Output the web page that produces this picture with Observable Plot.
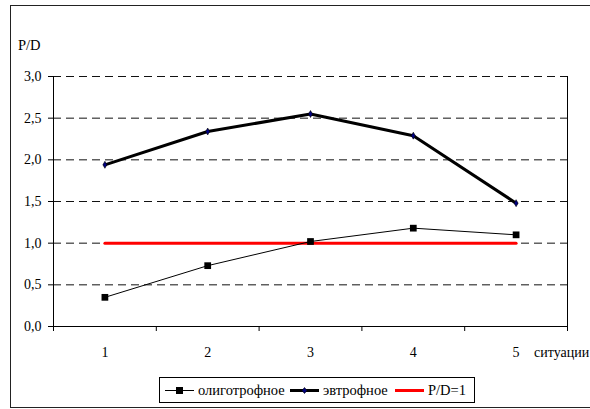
<!DOCTYPE html>
<html>
<head>
<meta charset="utf-8">
<script src="https://cdn.jsdelivr.net/npm/d3@7"></script>
<script src="https://cdn.jsdelivr.net/npm/@observablehq/plot@0.6"></script>
<style>
  html, body { margin: 0; padding: 0; background: #fff; overflow: hidden; }
  #wrap { position: relative; width: 590px; height: 409px; font-family: 'Liberation Serif', serif; }
  #frame { position: absolute; left: 10px; top: 5px; width: 620px; height: 401px; border: 1px solid #222; pointer-events: none; }
  #ylabel { position: absolute; left: 18px; top: 37px; font-size: 14.5px; color: #000; font-family: 'Liberation Serif', serif; }
  #legend { position: absolute; left: 159px; top: 377px; width: 316px; height: 26px; border: 1px solid #000; background: #fff;
            font-size: 14.5px; color: #000; box-sizing: border-box; font-family: 'Liberation Serif', serif; }
  #legend .item { position: absolute; top: 0; height: 24px; display: flex; align-items: center; white-space: nowrap; }
  #legend svg { margin-right: 4px; }
  #chart svg, #chart svg text { font-family: 'Liberation Serif', serif !important; }
</style>
</head>
<body>
<div id="wrap">
  <div id="chart"></div>
  <div id="frame"></div>
  <div id="ylabel"></div>
  <div id="legend"></div>
</div>
<script>
const categories = [1, 2, 3, 4, 5];
const oligotrophic = [0.35, 0.73, 1.02, 1.18, 1.10];
const eutrophic = [1.94, 2.34, 2.55, 2.29, 1.48];
const threshold = [1, 1, 1, 1, 1];
const seriesNames = ["олиготрофное", "эвтрофное", "P/D=1"];
const yTicks = [0, 0.5, 1.0, 1.5, 2.0, 2.5, 3.0];
const xAxisTitle = "ситуации";
const yAxisTitle = "P/D";

const oligo = categories.map((c, i) => ({x: c, y: oligotrophic[i]}));
const eutro = categories.map((c, i) => ({x: c, y: eutrophic[i]}));
const ref = categories.map((c, i) => ({x: c, y: threshold[i]}));
const bounds = [...categories.map(c => c - 0.5), categories[categories.length - 1] + 0.5];
const fmt = d => d.toFixed(1).replace(".", ",");

const chart = Plot.plot({
  width: 590,
  height: 409,
  marginLeft: 53,
  marginRight: 23,
  marginTop: 76,
  marginBottom: 83,
  style: {fontFamily: "'Liberation Serif', serif", fontSize: "14px", color: "#000", background: "transparent"},
  x: {domain: [bounds[0], bounds[bounds.length - 1]], ticks: bounds, tickFormat: () => "", tickSize: 5, label: null},
  y: {domain: [0, 3], ticks: yTicks, tickFormat: fmt, tickSize: 5, tickPadding: 7, label: null},
  marks: [
    Plot.ruleY(yTicks.filter(d => d > 0), {stroke: "#111", strokeWidth: 1, strokeDasharray: "8,5"}),
    Plot.ruleX([bounds[0], bounds[bounds.length - 1]], {stroke: "#000", strokeWidth: 1}),
    Plot.ruleY([0], {stroke: "#000", strokeWidth: 1}),
    Plot.line(ref, {x: "x", y: "y", stroke: "#ff0000", strokeWidth: 3}),
    Plot.line(oligo, {x: "x", y: "y", stroke: "#000", strokeWidth: 1}),
    Plot.dot(oligo, {x: "x", y: "y", symbol: "square", r: 3.8, fill: "#000", stroke: "none"}),
    Plot.line(eutro, {x: "x", y: "y", stroke: "#000", strokeWidth: 3}),
    Plot.dot(eutro, {x: "x", y: "y", symbol: "diamond", r: 2.1, fill: "#000080", stroke: "#000", strokeWidth: 0.6}),
    Plot.text(categories, {x: d => d, y: 0, dy: 26, text: d => String(d), fontSize: 14, fontFamily: "'Liberation Serif', serif"}),
    Plot.text([xAxisTitle], {x: categories[categories.length - 1], y: 0, dx: 18, dy: 26, text: d => d, textAnchor: "start", fontSize: 14, fontFamily: "'Liberation Serif', serif"})
  ]
});
document.getElementById("chart").appendChild(chart);
document.getElementById("ylabel").textContent = yAxisTitle;

const legendSpecs = [
  {name: seriesNames[0], stroke: "#000", width: 1, marker: "square", left: 5},
  {name: seriesNames[1], stroke: "#000", width: 3, marker: "diamond", left: 130},
  {name: seriesNames[2], stroke: "#ff0000", width: 3, marker: null, left: 235}
];
const legend = document.getElementById("legend");
for (const s of legendSpecs) {
  const item = document.createElement("span");
  item.className = "item";
  item.style.left = s.left + "px";
  let m = "";
  if (s.marker === "square") m = '<rect x="11" y="4" width="7" height="7" fill="#000"/>';
  if (s.marker === "diamond") m = '<path d="M14.5,4.5 L17,7.5 L14.5,10.5 L12,7.5 Z" fill="#000080" stroke="#000" stroke-width="0.6"/>';
  item.innerHTML = '<svg width="29" height="15"><line x1="0" x2="29" y1="7.5" y2="7.5" stroke="' + s.stroke + '" stroke-width="' + s.width + '"/>' + m + '</svg><span>' + s.name + '</span>';
  legend.appendChild(item);
}
</script>
</body>
</html>
